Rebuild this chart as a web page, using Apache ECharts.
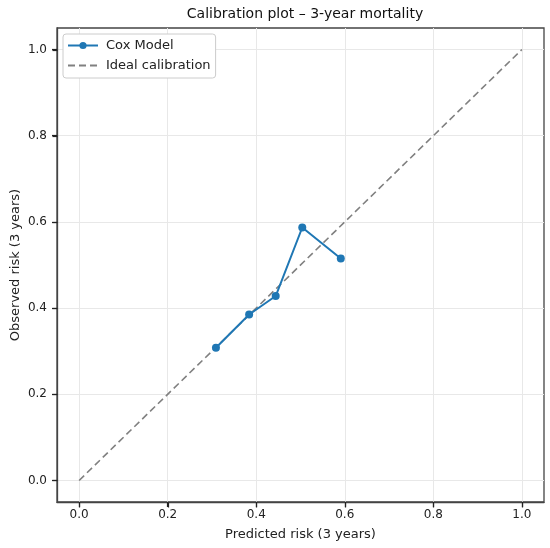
<!DOCTYPE html>
<html><head><meta charset="utf-8">
<script src="https://cdn.jsdelivr.net/npm/echarts@6/dist/echarts.min.js"></script>
<style>html,body{margin:0;padding:0;background:#fff}#c{width:550px;height:548px}</style>
</head><body><div id="c"></div>
<script>
const predicted = [0.309, 0.384, 0.444, 0.504, 0.591];
const observed = [0.308, 0.385, 0.428, 0.587, 0.515];
const idealX = [0, 1];
const idealY = [0, 1];
const ticks = [0, 0.2, 0.4, 0.6, 0.8, 1.0];
const axisMin = -0.05, axisMax = 1.05;

const font = 'DejaVu Sans';
const chart = echarts.init(document.getElementById('c'));
const gridLines = ticks.map(v => ({xAxis: v})).concat(ticks.map(v => ({yAxis: v})));
const axisCommon = {
  type: 'value', min: axisMin, max: axisMax,
  axisLine: {show: true, onZero: false, lineStyle: {color: '#444', width: 1.3}},
  axisTick: {show: true, inside: false, customValues: ticks, length: 5, lineStyle: {color: '#222', width: 1.2}},
  axisLabel: {customValues: ticks, formatter: v => v.toFixed(1), color: '#222', fontFamily: font, fontSize: 12},
  splitLine: {show: false},
  nameLocation: 'middle',
  nameTextStyle: {color: '#222', fontFamily: font, fontSize: 13}
};
function tickSeries(isX) {
  return {
    type: 'custom', silent: true, clip: false, z: 10, zlevel: 1,
    encode: {x: 0, y: 1},
    data: ticks.map(v => isX ? [v, axisMin] : [axisMin, v]),
    renderItem: function (params, api) {
      const p = api.coord([api.value(0), api.value(1)]);
      const x = Math.round(p[0]) + 0.5, y = Math.round(p[1]) + 0.5;
      const shape = isX ? {x1: x, y1: y, x2: x, y2: y + 5}
                        : {x1: x - 5, y1: y, x2: x, y2: y};
      return {type: 'line', shape: shape, style: {stroke: '#222', lineWidth: 1.2}};
    }
  };
}
chart.setOption({
  animation: false,
  title: {text: 'Calibration plot – 3-year mortality', left: 300, top: 2, textAlign: 'center',
    textStyle: {fontFamily: font, fontSize: 14, fontWeight: 'normal', color: '#111'}},
  grid: {left: 57, right: 6, top: 28, bottom: 46, show: true, borderColor: '#444', borderWidth: 1.3,
    containLabel: false, outerBoundsMode: 'none'},
  xAxis: Object.assign({}, axisCommon, {name: 'Predicted risk (3 years)', nameGap: 26,
    axisLabel: Object.assign({}, axisCommon.axisLabel, {margin: 7})}),
  yAxis: Object.assign({}, axisCommon, {name: 'Observed risk (3 years)', nameGap: 35, nameMoveOverlap: false,
    axisLabel: Object.assign({}, axisCommon.axisLabel, {margin: 10})}),
  legend: {
    left: 63, top: 34, orient: 'vertical', itemGap: 5, itemWidth: 30, itemHeight: 9,
    padding: [4, 5, 5, 4],
    backgroundColor: '#fff', borderColor: '#ccc', borderWidth: 1, borderRadius: 3,
    textStyle: {fontFamily: font, fontSize: 13, color: '#222', padding: [0, 0, 0, 3], lineHeight: 15},
    data: ['Cox Model', {name: 'Ideal calibration', itemStyle: {opacity: 0}}]
  },
  series: [
    {
      name: 'Cox Model', type: 'line', z: 3,
      data: predicted.map((x, i) => [x, observed[i]]),
      symbol: 'circle', symbolSize: 8,
      lineStyle: {color: '#1f77b4', width: 2},
      itemStyle: {color: '#1f77b4'},
      markLine: {
        silent: true, symbol: 'none', label: {show: false},
        lineStyle: {color: '#e8e8e8', width: 1, type: 'solid'},
        data: gridLines, z: 0
      }
    },
    {
      name: 'Ideal calibration', type: 'line', z: 2,
      data: idealX.map((x, i) => [x, idealY[i]]),
      symbol: 'none',
      lineStyle: {color: '#808080', width: 1.6, type: [7, 4]},
      itemStyle: {color: '#808080'}
    },
    tickSeries(true),
    tickSeries(false)
  ]
});
</script></body></html>
